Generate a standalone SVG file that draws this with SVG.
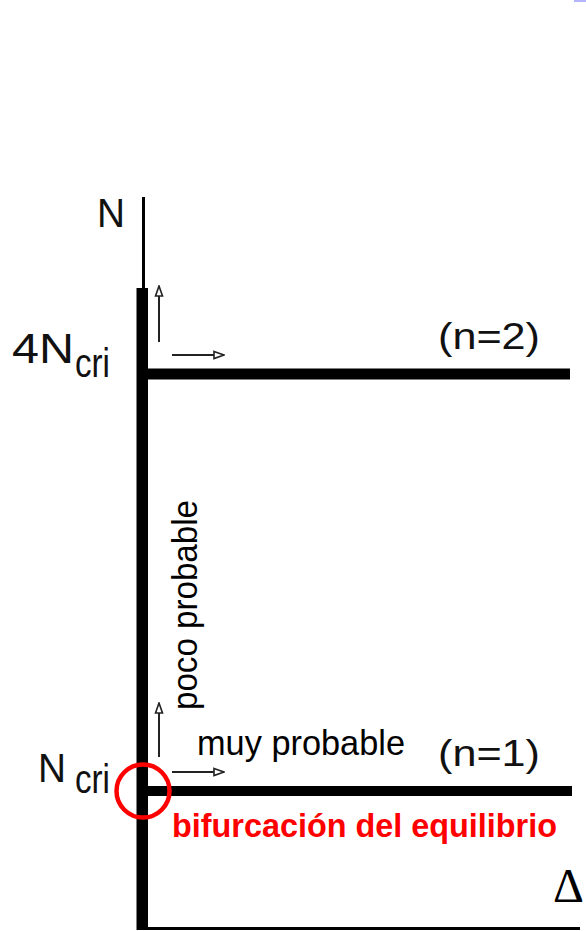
<svg xmlns="http://www.w3.org/2000/svg" width="586" height="931" viewBox="0 0 586 931">
  <style>
    .lbl { font-family: "Liberation Sans", Arial, sans-serif; fill: #111; }
    .cal { font-family: "Liberation Sans", Arial, sans-serif; fill: #000; font-size: 35px; }
    .red { font-family: "Liberation Sans", Arial, sans-serif; fill: #ff0000; font-weight: bold; font-size: 33px; }
    .arrow { stroke: #222; stroke-width: 2; fill: none; marker-end: url(#open); }
  </style>
  <defs>
    <marker id="open" viewBox="0 0 12 10" refX="11" refY="5" markerWidth="12" markerHeight="10" markerUnits="userSpaceOnUse" orient="auto">
      <path d="M1,1.5 L11,5 L1,8.5 Z" fill="#fff" stroke="#222" stroke-width="1.6"/>
    </marker>
  </defs>
  <rect x="0" y="0" width="586" height="931" fill="#fff"/>
  <rect x="574" y="0" width="12" height="2" fill="#b4b4ff"/>

  <g id="axes">
    <line x1="143.5" y1="197" x2="143.5" y2="292" stroke="#000" stroke-width="3"/>
    <rect x="136.5" y="288" width="11.5" height="642" fill="#000"/>
    <line x1="142" y1="928.5" x2="580" y2="928.5" stroke="#000" stroke-width="3"/>
  </g>

  <g id="level-n2">
    <rect x="148" y="368.5" width="422" height="11" fill="#000"/>
    <text class="lbl" x="438" y="349" font-size="36" textLength="102" lengthAdjust="spacingAndGlyphs">(n=2)</text>
  </g>

  <g id="level-n1">
    <rect x="148" y="786" width="424" height="10" fill="#000"/>
    <text class="lbl" x="438" y="766" font-size="36" textLength="102" lengthAdjust="spacingAndGlyphs">(n=1)</text>
  </g>

  <g id="label-N">
    <text class="lbl" x="97" y="227" font-size="40" textLength="28" lengthAdjust="spacingAndGlyphs">N</text>
  </g>
  <g id="label-4Ncri">
    <text class="lbl" x="12" y="363" font-size="43" textLength="62" lengthAdjust="spacingAndGlyphs">4N</text>
    <text class="lbl" x="75" y="377" font-size="40" textLength="35" lengthAdjust="spacingAndGlyphs">cri</text>
  </g>
  <g id="label-Ncri">
    <text class="lbl" x="38" y="782" font-size="40" textLength="28" lengthAdjust="spacingAndGlyphs">N</text>
    <text class="lbl" x="75" y="793" font-size="40" textLength="35" lengthAdjust="spacingAndGlyphs">cri</text>
  </g>
  <g id="label-delta">
    <text x="553" y="902" font-family="'Liberation Serif', 'Times New Roman', serif" font-size="48" fill="#000">Δ</text>
  </g>

  <g id="connectors">
    <line class="arrow" x1="159" y1="342" x2="159" y2="286"/>
    <line class="arrow" x1="172" y1="355" x2="224" y2="355"/>
    <line class="arrow" x1="159" y1="757" x2="159" y2="703"/>
    <line class="arrow" x1="172" y1="772" x2="224" y2="772"/>
  </g>

  <g id="label-poco">
    <text class="cal" transform="translate(197,710) rotate(-90)" x="0" y="0" textLength="210" lengthAdjust="spacingAndGlyphs">poco probable</text>
  </g>
  <g id="label-muy">
    <text class="cal" x="197" y="755" textLength="208" lengthAdjust="spacingAndGlyphs">muy probable</text>
  </g>

  <g id="bifurcation">
    <circle cx="143" cy="791" r="26.5" fill="none" stroke="#ff0000" stroke-width="4.5"/>
    <text class="red" x="172" y="837" textLength="385" lengthAdjust="spacingAndGlyphs">bifurcación del equilibrio</text>
  </g>
</svg>
